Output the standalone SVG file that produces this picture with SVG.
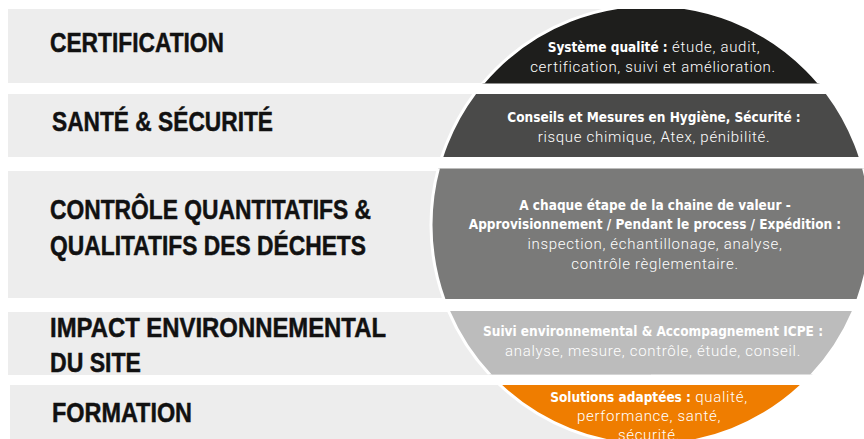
<svg xmlns="http://www.w3.org/2000/svg" width="864" height="439" viewBox="0 0 864 439">
<style>
.bar{fill:#ededed}
.lbl{font-family:"Liberation Sans",Arial,sans-serif;font-weight:bold;font-size:27.5px;fill:#111;stroke:#111;stroke-width:0.5px}
.disc{stroke:#fff;stroke-width:3}
.t{font-family:"DejaVu Sans Condensed","Liberation Sans",sans-serif;font-size:13.5px;fill:#fff;text-anchor:middle}
.b{font-weight:bold}
.l{font-family:Roboto,"Liberation Sans",sans-serif;font-weight:300;font-size:15px;letter-spacing:0.7px}
</style>
<defs>
<clipPath id="c1"><rect x="0" y="9" width="864" height="74.5"/></clipPath>
<clipPath id="c2"><rect x="0" y="94" width="864" height="63"/></clipPath>
<clipPath id="c3"><rect x="0" y="168.5" width="864" height="130.5"/></clipPath>
<clipPath id="c4"><rect x="0" y="311" width="864" height="63.5"/></clipPath>
<clipPath id="c5"><rect x="0" y="385" width="864" height="60"/></clipPath>
</defs>
<rect width="864" height="439" fill="#fff"/>
<g id="certification">
<rect class="bar" x="8" y="9" width="643" height="74"/>
<g clip-path="url(#c1)"><circle class="disc" cx="651" cy="225" r="220" fill="#1e1e1c"/></g>
<text class="lbl" x="50" y="52" textLength="174" lengthAdjust="spacingAndGlyphs">CERTIFICATION</text>
<text class="t" y="52"><tspan x="654" class="b">Système qualité :</tspan><tspan class="l"> étude, audit,</tspan></text>
<text class="t l" x="653" y="72">certification, suivi et amélioration.</text>
</g>
<g id="sante">
<rect class="bar" x="8" y="94" width="643" height="63"/>
<g clip-path="url(#c2)"><circle class="disc" cx="651" cy="225" r="220" fill="#4a4a49"/></g>
<text class="lbl" x="52" y="131" textLength="221" lengthAdjust="spacingAndGlyphs">SANTÉ &amp; SÉCURITÉ</text>
<text class="t b" x="654" y="122">Conseils et Mesures en Hygiène, Sécurité :</text>
<text class="t l" x="654" y="142">risque chimique, Atex, pénibilité.</text>
</g>
<g id="controle">
<rect class="bar" x="8" y="171" width="643" height="127"/>
<g clip-path="url(#c3)"><circle class="disc" cx="651" cy="225" r="220" fill="#7a7a79"/></g>
<text class="lbl" x="50" y="219" textLength="321" lengthAdjust="spacingAndGlyphs">CONTRÔLE QUANTITATIFS &amp;</text>
<text class="lbl" x="50" y="255" textLength="316" lengthAdjust="spacingAndGlyphs">QUALITATIFS  DES DÉCHETS</text>
<text class="t b" x="655" y="210">A chaque étape de la chaine de valeur -</text>
<text class="t b" x="655" y="229">Approvisionnement / Pendant le process / Expédition :</text>
<text class="t l" x="655" y="249">inspection, échantillonage, analyse,</text>
<text class="t l" x="655" y="269">contrôle règlementaire.</text>
</g>
<g id="impact">
<rect class="bar" x="8" y="312" width="643" height="63"/>
<g clip-path="url(#c4)"><circle class="disc" cx="651" cy="225" r="220" fill="#bcbcbc"/></g>
<text class="lbl" x="50" y="337" textLength="336" lengthAdjust="spacingAndGlyphs">IMPACT ENVIRONNEMENTAL</text>
<text class="lbl" x="50" y="372" textLength="91" lengthAdjust="spacingAndGlyphs">DU SITE</text>
<text class="t b" x="653" y="336">Suivi environnemental &amp; Accompagnement ICPE :</text>
<text class="t l" x="653" y="356">analyse, mesure, contrôle, étude, conseil.</text>
</g>
<g id="formation">
<rect class="bar" x="10" y="385" width="641" height="54"/>
<g clip-path="url(#c5)"><circle class="disc" cx="651" cy="225" r="220" fill="#ef7d00"/></g>
<text class="lbl" x="52" y="422" textLength="140" lengthAdjust="spacingAndGlyphs">FORMATION</text>
<text class="t" y="402"><tspan x="649" class="b">Solutions adaptées :</tspan><tspan class="l"> qualité,</tspan></text>
<text class="t l" x="649" y="421">performance, santé,</text>
<text class="t l" x="649" y="440">sécurité.</text>
</g>
<g id="connectors"/>
</svg>
